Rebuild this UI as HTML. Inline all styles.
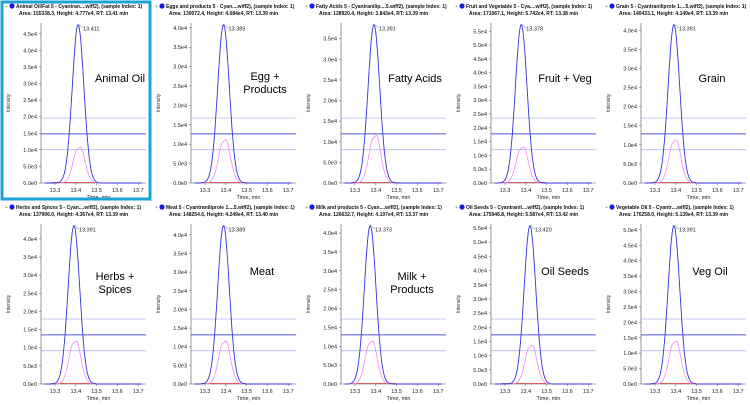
<!DOCTYPE html>
<html><head><meta charset="utf-8"><style>
html,body{margin:0;padding:0;background:#fff;}
svg{display:block;font-family:"Liberation Sans",sans-serif;}
</style></head><body>
<svg id="s" width="750" height="405" xmlns="http://www.w3.org/2000/svg"></svg>
<script>
var P=[
["Animal Oil/Fat 5 - Cyantran....wiff2), (sample Index: 1)","Area: 155338.3, Height: 4.777e4, RT: 13.41 min",4.777,13.411,["Animal Oil"],120,82,0.25],
["Eggs and products 5 - Cyan....wiff2), (sample Index: 1)","Area: 139072.4, Height: 4.084e4, RT: 13.39 min",4.084,13.389,["Egg +","Products"],265,80,0.3],
["Fatty Acids 5 - Cyantranilip....5.wiff2), (sample Index: 1)","Area: 128920.4, Height: 3.843e4, RT: 13.39 min",3.843,13.391,["Fatty Acids"],415,82,0.33],
["Fruit and Vegetable 5 - Cya....wiff2), (sample Index: 1)","Area: 171067.1, Height: 5.742e4, RT: 13.38 min",5.742,13.378,["Fruit + Veg"],565,82,0.25],
["Grain 5 - Cyantraniliprole 1....5.wiff2), (sample Index: 1)","Area: 140433.1, Height: 4.149e4, RT: 13.39 min",4.149,13.391,["Grain"],712,82,0.3],
["Herbs and Spices 5 - Cyan....wiff2), (sample Index: 1)","Area: 137996.0, Height: 4.367e4, RT: 13.39 min",4.367,13.391,["Herbs +","Spices"],115,280,0.3],
["Meat 5 - Cyantraniliprole 1....5.wiff2), (sample Index: 1)","Area: 148254.6, Height: 4.249e4, RT: 13.40 min",4.249,13.389,["Meat"],262,275,0.3],
["Milk and products 5 - Cyan....wiff2), (sample Index: 1)","Area: 126632.7, Height: 4.197e4, RT: 13.37 min",4.197,13.373,["Milk +","Products"],412,280,0.3],
["Oil Seeds 5 - Cyantranil....wiff2), (sample Index: 1)","Area: 175946.8, Height: 5.587e4, RT: 13.42 min",5.587,13.420,["Oil Seeds"],565,275,0.27],
["Vegetable Oil 5 - Cyantr....wiff2), (sample Index: 1)","Area: 176258.0, Height: 5.139e4, RT: 13.39 min",5.139,13.391,["Veg Oil"],710,275,0.3]
];
var o='';
P.forEach(function(p,i){
 var ox=(i%5)*150, oy=i<5?0:201;
 var ax=ox+41, ar=ox+146, top=oy+23, bot=oy+183;
 var ymax=p[2]*1.01;
 function Y(v){return bot-(v/ymax)*(bot-top);}
 function X(t){return ax+14+(t-13.3)*208;}
 o+='<circle cx="'+(ox+12)+'" cy="'+(oy+6)+'" r="2.6" fill="#1a1adb"/>';
 o+='<text x="'+(ox+5)+'" y="'+(oy+8)+'" font-size="5" fill="#888">+</text>';
 o+='<text x="'+(ox+16)+'" y="'+(oy+8)+'" font-size="5" font-weight="bold" fill="#111">'+p[0]+'</text>';
 o+='<text x="'+(ox+19)+'" y="'+(oy+15)+'" font-size="5" font-weight="bold" fill="#111">'+p[1]+'</text>';
 for(var v=0;v<=ymax+0.01;v+=0.5){var y=Y(v);
  var lab=v==0?'0.0e0':(v<1?(v*10).toFixed(1)+'e3':v.toFixed(1)+'e4');
  o+='<line x1="'+(ax-2)+'" y1="'+y+'" x2="'+ax+'" y2="'+y+'" stroke="#555" stroke-width="0.5"/>';
  o+='<text x="'+(ax-4)+'" y="'+(y+2)+'" font-size="5.5" text-anchor="end" fill="#222">'+lab+'</text>';}
 o+='<text transform="translate('+(ox+10)+','+((top+bot)/2)+') rotate(-90)" font-size="5" text-anchor="middle" fill="#333">Intensity</text>';
 [0.41,0.31,0.21].forEach(function(f,k){var y=Y(p[2]*f);o+='<line x1="'+ax+'" y1="'+y+'" x2="'+ar+'" y2="'+y+'" stroke="'+(k==1?'#5555dd':'#aaaaf0')+'" stroke-width="'+(k==1?1:0.7)+'"/>';});
 o+='<line x1="'+ax+'" y1="'+top+'" x2="'+ax+'" y2="'+bot+'" stroke="#555" stroke-width="0.6"/>';
 o+='<line x1="'+ax+'" y1="'+bot+'" x2="'+ar+'" y2="'+bot+'" stroke="#555" stroke-width="0.6"/>';
 o+='<line x1="'+(ax+10)+'" y1="'+(bot-0.5)+'" x2="'+(ar-50)+'" y2="'+(bot-0.5)+'" stroke="#d33" stroke-width="0.8"/>';
 [13.3,13.4,13.5,13.6,13.7].forEach(function(t){var x=X(t);o+='<line x1="'+x+'" y1="'+bot+'" x2="'+x+'" y2="'+(bot+2)+'" stroke="#555" stroke-width="0.5"/><text x="'+x+'" y="'+(bot+9)+'" font-size="5.5" text-anchor="middle" fill="#222">'+t.toFixed(1)+'</text>';});
 o+='<text x="'+((ax+ar)/2+5)+'" y="'+(bot+16)+'" font-size="5.5" text-anchor="middle" fill="#222">Time, min</text>';
 var b='',pk='';
 for(var t=13.25;t<=13.72;t+=0.004){var g=Math.exp(-Math.pow((t-p[3])/0.028,2)/2);
  var gp=Math.exp(-Math.pow((t-p[3]-0.005)/0.026,2)/2)*(1-0.12*Math.exp(-Math.pow((t-p[3]-0.002)/0.008,2)/2));
  var x=X(t);if(x<ax||x>ar)continue;
  b+=(b?'L':'M')+x.toFixed(1)+','+Y(p[2]*g).toFixed(1);
  pk+=(pk?'L':'M')+x.toFixed(1)+','+Y(p[2]*p[7]*gp).toFixed(1);}
 o+='<path d="'+pk+'" fill="none" stroke="#f08cf0" stroke-width="0.8"/>';
 o+='<path d="'+b+'" fill="none" stroke="#3333e0" stroke-width="0.9"/>';
 var px=X(p[3]),py=Y(p[2]);
 o+='<line x1="'+(px+1)+'" y1="'+py+'" x2="'+(px+5)+'" y2="'+(py+4)+'" stroke="#333" stroke-width="0.4"/>';
 o+='<text x="'+(px+5)+'" y="'+(py+6)+'" font-size="5.5" fill="#222">'+p[3].toFixed(3)+'</text>';
 p[4].forEach(function(s,k){o+='<text x="'+p[5]+'" y="'+(p[6]+k*13)+'" font-size="11" text-anchor="middle" fill="#000">'+s+'</text>';});
});
o+='<rect x="2" y="2" width="148" height="197" fill="none" stroke="#1ea0d8" stroke-width="3"/>';
document.getElementById('s').innerHTML=o;
</script>
</body></html>
